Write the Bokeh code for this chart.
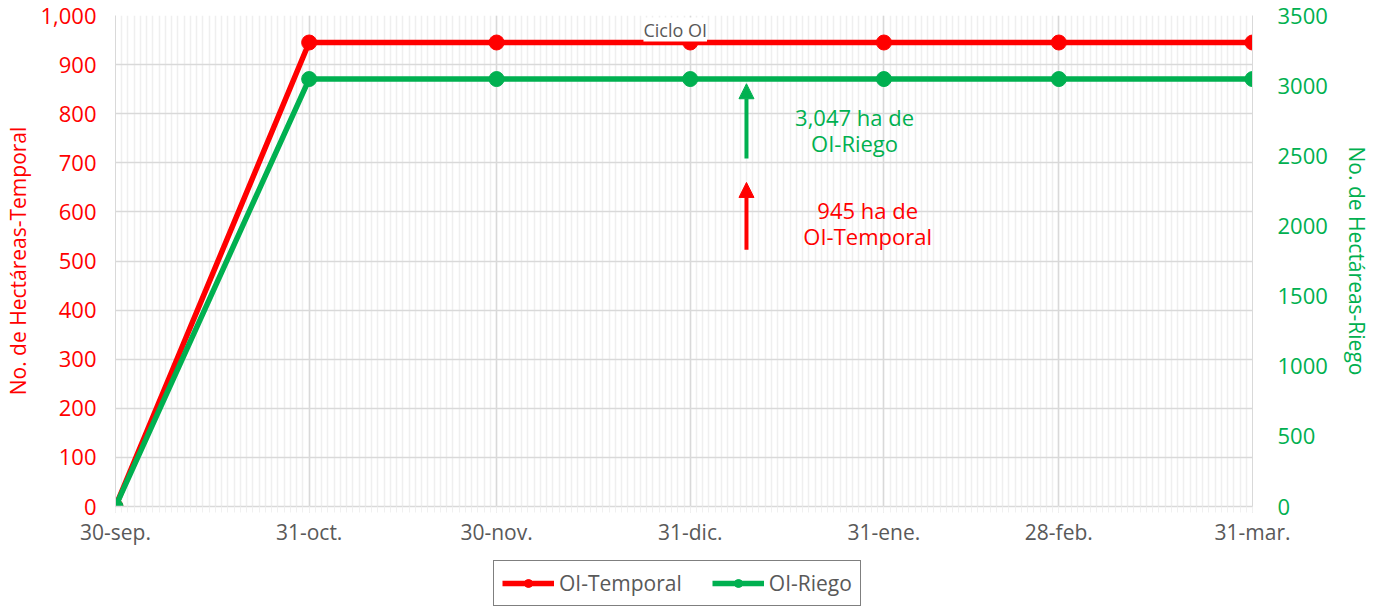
import pandas as pd
from bokeh.plotting import figure
from bokeh.layouts import column
from bokeh.models import (Range1d, LinearAxis, FixedTicker, NumeralTickFormatter,
                          Legend, LegendItem, Arrow, NormalHead, Label)
from bokeh.embed import file_html
from bokeh.resources import INLINE

# ---- data ----
dates = ["2018-09-30", "2018-10-31", "2018-11-30", "2018-12-31",
         "2019-01-31", "2019-02-28", "2019-03-31"]
date_labels = ["30-sep.", "31-oct.", "30-nov.", "31-dic.", "31-ene.", "28-feb.", "31-mar."]
temporal = [0, 945, 945, 945, 945, 945, 945]
riego = [0, 3047, 3047, 3047, 3047, 3047, 3047]
series_names = ["OI-Temporal", "OI-Riego"]
title_text = "Ciclo OI"
left_title = "No. de Hectáreas-Temporal"
right_title = "No. de Hectáreas-Riego"
label_riego = "3,047 ha de\nOI-Riego"
label_temporal = "945 ha de\nOI-Temporal"

# ---- derived x (days since first date) ----
d = pd.to_datetime(dates)
start = d[0]
x = [int((t - start).days) for t in d]
ndays = x[-1]

RED = "#ff0000"
GREEN = "#00b050"
GRAY = "#595959"
GRID = "#d9d9d9"
FONT = "Open Sans"

p = figure(width=1373, height=550, output_backend="svg", toolbar_location=None,
           x_range=Range1d(0, ndays), y_range=Range1d(0, 1000),
           min_border_left=115, min_border_right=121, min_border_top=15, min_border_bottom=44)
p.outline_line_color = None
p.background_fill_color = "white"
p.border_fill_color = "white"
p.extra_y_ranges = {"riego": Range1d(0, 3500)}

# x axis
xt = FixedTicker(ticks=x, minor_ticks=list(range(0, ndays + 1)))
p.xaxis.ticker = xt
p.xaxis.major_label_overrides = {xi: lab for xi, lab in zip(x, date_labels)}
p.xaxis.axis_line_color = GRID
p.xaxis.axis_line_width = 1.5
p.xaxis.major_tick_line_color = GRID
p.xaxis.major_tick_out = 6
p.xaxis.major_tick_in = 0
p.xaxis.minor_tick_line_color = "#f0f0f0"
p.xaxis.minor_tick_out = 6
p.xaxis.minor_tick_in = 0
p.xaxis.major_label_text_font = FONT
p.xaxis.major_label_text_font_size = "21px"
p.xaxis.major_label_text_color = GRAY
p.xaxis.major_label_standoff = 5

p.xgrid.ticker = xt
p.xgrid.grid_line_color = GRID
p.xgrid.grid_line_width = 1.5
p.xgrid.minor_grid_line_color = "#efefef"
p.xgrid.minor_grid_line_width = 1.5

# left axis
yt = FixedTicker(ticks=list(range(0, 1001, 100)))
p.yaxis.ticker = yt
p.yaxis.formatter = NumeralTickFormatter(format="0,0")
p.yaxis.axis_line_color = GRID
p.yaxis.major_tick_line_color = None
p.yaxis.minor_tick_line_color = None
p.yaxis.major_label_text_font = FONT
p.yaxis.major_label_text_font_size = "22px"
p.yaxis.major_label_text_color = RED
p.yaxis.major_label_standoff = 13
p.yaxis.axis_label = left_title
p.yaxis.axis_label_text_font = FONT
p.yaxis.axis_label_text_font_size = "21px"
p.yaxis.axis_label_text_font_style = "normal"
p.yaxis.axis_label_text_color = RED
p.yaxis.axis_label_standoff = 5
p.ygrid.ticker = yt
p.ygrid.grid_line_color = GRID
p.ygrid.grid_line_width = 1.5

# right axis
ra = LinearAxis(y_range_name="riego", ticker=FixedTicker(ticks=list(range(0, 3501, 500))))
ra.axis_line_color = GRID
ra.major_tick_line_color = None
ra.minor_tick_line_color = None
ra.major_label_text_font = FONT
ra.major_label_text_font_size = "22px"
ra.major_label_text_color = GREEN
ra.major_label_standoff = 19
ra.axis_label = right_title
ra.axis_label_text_font = FONT
ra.axis_label_text_font_size = "21px"
ra.axis_label_text_font_style = "normal"
ra.axis_label_text_color = GREEN
ra.axis_label_standoff = 12
p.add_layout(ra, "right")

# series
p.line(x, temporal, line_color=RED, line_width=5.5)
p.scatter(x, temporal, size=15, fill_color=RED, line_color=RED)
p.line(x, riego, line_color=GREEN, line_width=5.5, y_range_name="riego")
p.scatter(x, riego, size=15, fill_color=GREEN, line_color=GREEN, y_range_name="riego")

# annotations
arrow_day = 101
p.add_layout(Arrow(end=NormalHead(size=15, fill_color=GREEN, line_color=GREEN, line_width=1),
                   x_start=arrow_day, y_start=709, x_end=arrow_day, y_end=861,
                   line_color=GREEN, line_width=4))
p.add_layout(Arrow(end=NormalHead(size=15, fill_color=RED, line_color=RED, line_width=1),
                   x_start=arrow_day, y_start=523, x_end=arrow_day, y_end=660,
                   line_color=RED, line_width=4))
p.add_layout(Label(x=118.3, y=767, text=label_riego, text_align="center",
                   text_baseline="middle", text_font=FONT, text_font_size="22px",
                   text_color=GREEN, text_line_height=0.87))
p.add_layout(Label(x=120.4, y=578, text=label_temporal, text_align="center",
                   text_baseline="middle", text_font=FONT, text_font_size="22px",
                   text_color=RED, text_line_height=0.87))
p.add_layout(Label(x=89.6, y=1000, y_offset=-2, text=title_text, text_align="center",
                   text_baseline="top", text_font=FONT, text_font_size="18px",
                   text_color=GRAY, background_fill_color="white"))

# legend in its own strip below the chart
p2 = figure(width=1373, height=56, output_backend="svg", toolbar_location=None,
            x_range=Range1d(0, 1), y_range=Range1d(0, 1),
            min_border_left=0, min_border_right=0, min_border_top=0, min_border_bottom=0)
p2.outline_line_color = None
p2.axis.visible = False
p2.grid.visible = False
# off-range sample points so the legend swatches get drawn (nothing visible in the strip)
lr1 = p2.line([5, 6], [5, 5], line_color=RED, line_width=5.5)
sr1 = p2.scatter([5], [5], size=13, fill_color=RED, line_color=RED)
lr2 = p2.line([5, 6], [5, 5], line_color=GREEN, line_width=5.5)
sr2 = p2.scatter([5], [5], size=13, fill_color=GREEN, line_color=GREEN)
legend = Legend(items=[LegendItem(label=series_names[0], renderers=[lr1, sr1]),
                       LegendItem(label=series_names[1], renderers=[lr2, sr2])],
                orientation="horizontal", location=(378, 0),
                border_line_color="black", border_line_width=1.5,
                label_text_font=FONT, label_text_font_size="21px", label_text_color=GRAY,
                glyph_width=52, label_standoff=5, spacing=30, padding=8, margin=0,
                background_fill_alpha=1)
p2.add_layout(legend, "center")

layout = column(p, p2, spacing=0)
open("out.html", "w").write(file_html(layout, INLINE))
